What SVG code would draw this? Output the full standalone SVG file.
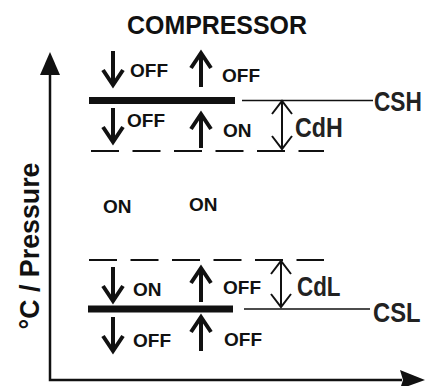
<svg xmlns="http://www.w3.org/2000/svg" width="425" height="386" viewBox="0 0 425 386">
<style>
text{font-family:"Liberation Sans",Arial,sans-serif;font-weight:bold;fill:#111}
.sm{font-size:19px}
.lb{font-size:28px;fill:#222}
.ax{stroke:#111;stroke-width:2.5;fill:none}
.bar{stroke:#111;stroke-width:7}
.thin{stroke:#111;stroke-width:1.6}
.dash{stroke:#111;stroke-width:2;stroke-dasharray:28 13.5}
.arr{stroke:#111;stroke-width:4;fill:none;stroke-linejoin:miter}
.dbl{stroke:#111;stroke-width:2;fill:none}
</style>
<defs>
<path id="dn" d="M0 -35 V-1 M-10 -16 L0 -1 L10 -16"/>
<path id="up" d="M0 35 V1 M-10 16 L0 1 L10 16"/>
</defs>
<g id="title"><text x="217" y="34" font-size="25" text-anchor="middle" textLength="180" lengthAdjust="spacingAndGlyphs">COMPRESSOR</text></g>
<g id="axes">
<path class="ax" d="M50 70 V380 H402"/>
<path d="M50 52 L40 75 H60 Z" fill="#111"/>
<path d="M425 380 L400 370 L403 380 L400 389 Z" fill="#111"/>
<text transform="translate(39,246) rotate(-90)" font-size="27" text-anchor="middle" textLength="167" lengthAdjust="spacingAndGlyphs">°C / Pressure</text>
</g>
<g id="connectors">
<line class="bar" x1="89" y1="100.5" x2="235" y2="100.5"/>
<line class="thin" x1="242" y1="100.5" x2="373" y2="100.5"/>
<line class="dash" x1="91" y1="151" x2="324" y2="151"/>
<path class="dbl" d="M282 102 V148 M272 114 L282 101 L292 114 M272 136 L282 149 L292 136"/>
<line class="dash" x1="89" y1="260" x2="324" y2="260"/>
<line class="bar" x1="88" y1="309" x2="233" y2="309"/>
<line class="thin" x1="244" y1="309" x2="370" y2="309"/>
<path class="dbl" d="M281 262 V306 M271 274 L281 261 L291 274 M271 294 L281 307 L291 294"/>
<use href="#dn" class="arr" x="113" y="86"/>
<use href="#up" class="arr" x="201" y="52"/>
<use href="#dn" class="arr" x="113" y="143"/>
<use href="#up" class="arr" x="201" y="113"/>
<use href="#dn" class="arr" x="113" y="302"/>
<use href="#up" class="arr" x="201" y="267"/>
<use href="#dn" class="arr" x="113" y="352"/>
<use href="#up" class="arr" x="201" y="316"/>
</g>
<g id="csh">
<text class="lb" transform="translate(374,111) scale(0.81,1)">CSH</text>
<text class="lb" transform="translate(295,137) scale(0.83,1)">CdH</text>
</g>
<g id="csl">
<text class="lb" transform="translate(373,322) scale(0.85,1)">CSL</text>
<text class="lb" transform="translate(297,296) scale(0.80,1)">CdL</text>
</g>
<g id="states">
<text class="sm" x="130" y="77">OFF</text>
<text class="sm" x="222" y="82">OFF</text>
<text class="sm" x="127" y="127">OFF</text>
<text class="sm" x="223" y="137">ON</text>
<text class="sm" x="103" y="213">ON</text>
<text class="sm" x="189" y="211">ON</text>
<text class="sm" x="133" y="296">ON</text>
<text class="sm" x="223" y="294">OFF</text>
<text class="sm" x="133" y="347">OFF</text>
<text class="sm" x="224" y="346">OFF</text>
</g>
</svg>
